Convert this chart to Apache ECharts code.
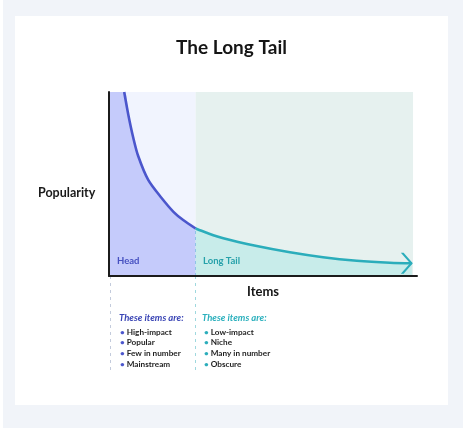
<!DOCTYPE html>
<html><head><meta charset="utf-8">
<script src="https://cdn.jsdelivr.net/npm/echarts@6/dist/echarts.min.js"></script>
<style>
html,body{margin:0;padding:0;width:463px;height:428px;background:#f1f4f9;overflow:hidden}
#strip{position:absolute;left:0;top:0;width:3px;height:428px;background:#fff}
#card{position:absolute;left:15px;top:16px;width:433px;height:389px;background:#fff}
#chart{position:absolute;left:0;top:0;width:463px;height:428px}
</style></head><body>
<div id="strip"></div><div id="card"></div><div id="chart"></div>
<script>
// Data (x: item rank 0-100, y: popularity 0-100)
const headCurve = [[5,100],[6.35,87.7],[8,75],[9.6,65.2],[12.9,52.2],[17.3,42.4],[21.2,34.9],[24.4,30.4],[28.5,25.8]];
const tailCurve = [[28.5,25.8],[32.1,23.5],[37.6,20.5],[48.6,16.3],[59.5,12.9],[70.4,10.2],[81.5,8.3],[92.4,7.2],[99.6,6.9]];
const headRange = [0, 28.5];
const tailRange = [28.5, 100];
const headItems = ['High-impact','Popular','Few in number','Mainstream'];
const tailItems = ['Low-impact','Niche','Many in number','Obscure'];
const headLabel = 'Head';
const tailLabel = 'Long Tail';
const listTitle = 'These items are:';

const FONT = 'Lato';
const C = {
  headFill:'#c5cbfb', headBg:'#f1f4fe', headLine:'#4b56cc', headText:'#4650c0', headTitle:'#3a45b5',
  tailFill:'#c8ecea', tailBg:'#e6f1ef', tailLine:'#2badbb', tailText:'#26a1aa', tailTitle:'#2bb0bd',
  axis:'#1b1b1b'
};

const chart = echarts.init(document.getElementById('chart'), null, {renderer:'canvas'});

const graphics = [];
function txt(x, y, text, style){
  graphics.push({type:'text', x, y, z:100, zlevel:0,
    style:Object.assign({text, fontFamily:FONT, fontWeight:'bold', verticalAlign:'middle'}, style)});
}
txt(38, 193, 'Popularity', {fontSize:12.5, fill:'#1a1a1a'});
txt(117, 261, headLabel, {fontSize:9.5, fill:C.headText});
txt(203, 261, tailLabel, {fontSize:9.5, fill:C.tailText});
txt(119, 318, listTitle, {fontSize:9.5, fontStyle:'italic', fill:C.headTitle});
txt(202, 318, listTitle, {fontSize:9.5, fontStyle:'italic', fill:C.tailTitle});
const rows = [332.3, 342.7, 353.3, 364];
headItems.forEach((t,i)=>{
  txt(120, rows[i], '{b|•} ' + t, {fontSize:8.2, fill:'#1e1e1e',
    rich:{b:{fill:C.headLine, fontSize:8.2, fontWeight:'bold', fontFamily:FONT}}});
});
tailItems.forEach((t,i)=>{
  txt(204, rows[i], '{b|•} ' + t, {fontSize:8.2, fill:'#1e1e1e',
    rich:{b:{fill:C.tailLine, fontSize:8.2, fontWeight:'bold', fontFamily:FONT}}});
});

const option = {
  animation:false,
  backgroundColor:'transparent',
  title:{text:'The Long Tail', left:'center', top:38, padding:0,
    textStyle:{fontFamily:FONT, fontWeight:'bold', fontSize:19, color:'#151515'}},
  grid:[
    {left:109, top:92, width:308, height:184},
    {left:109, top:277, width:308, height:93}
  ],
  xAxis:[
    {type:'value', gridIndex:0, min:0, max:101.3, z:10,
     axisLine:{show:true, onZero:false, lineStyle:{color:C.axis, width:2}},
     axisTick:{show:false}, axisLabel:{show:false}, splitLine:{show:false},
     name:'Items', nameLocation:'middle', nameGap:9,
     nameTextStyle:{fontFamily:FONT, fontWeight:'bold', fontSize:13, color:'#151515', verticalAlign:'top'}},
    {type:'value', gridIndex:1, min:0, max:101.3, show:false}
  ],
  yAxis:[
    {type:'value', gridIndex:0, min:0, max:100, z:10,
     axisLine:{show:true, onZero:false, lineStyle:{color:C.axis, width:2}},
     axisTick:{show:false}, axisLabel:{show:false}, splitLine:{show:false}},
    {type:'value', gridIndex:1, min:0, max:1, show:false}
  ],
  graphic:{elements:graphics},
  series:[
    { // background bands
      type:'line', data:[], z:0, silent:true,
      markArea:{silent:true, data:[
        [{xAxis:headRange[0], itemStyle:{color:C.headBg}}, {xAxis:headRange[1]}],
        [{xAxis:tailRange[0], itemStyle:{color:C.tailBg}}, {xAxis:tailRange[1]}]
      ]}
    },
    { // head fill
      type:'line', z:2, silent:true, symbol:'none', smooth:0.3,
      data:[[headRange[0],100]].concat(headCurve),
      lineStyle:{width:0}, areaStyle:{color:C.headFill, opacity:1}
    },
    { // tail fill + boundary dash
      type:'line', z:2, silent:true, symbol:'none', smooth:0.3,
      data:tailCurve,
      lineStyle:{width:0}, areaStyle:{color:C.tailFill, opacity:1},
      markLine:{silent:true, symbol:'none', label:{show:false},
        lineStyle:{type:[3,3], color:'#8fc3e6', width:1},
        data:[[{coord:[tailRange[0],0]},{coord:tailCurve[0]}]]}
    },
    { // head line
      type:'line', z:4, silent:true, symbol:'none', smooth:0.3,
      data:headCurve, lineStyle:{width:2.6, color:C.headLine}
    },
    { // tail line with arrow
      type:'line', z:4, silent:true, symbol:'none', smooth:0.3,
      data:tailCurve, lineStyle:{width:2.6, color:C.tailLine},
      markPoint:{silent:true, data:[{coord:tailCurve[tailCurve.length-1]}],
        symbol:'path://M0,0 L3,0 L13,10 L3,20 L0,20 L10,10 Z', symbolSize:[12,21], symbolOffset:[-5,0],
        itemStyle:{color:C.tailLine}, label:{show:false}}
    },
    { // dashed guide lines below the axis
      type:'line', xAxisIndex:1, yAxisIndex:1, data:[], silent:true,
      markLine:{silent:true, symbol:'none', label:{show:false},
        data:[
          {xAxis:headRange[0]+0.5, lineStyle:{type:[3,4], color:'#c3cbdc', width:1}},
          {xAxis:tailRange[0], lineStyle:{type:[3,4], color:'#9fd8de', width:1}}
        ]}
    }
  ]
};
chart.setOption(option);
</script>
</body></html>
